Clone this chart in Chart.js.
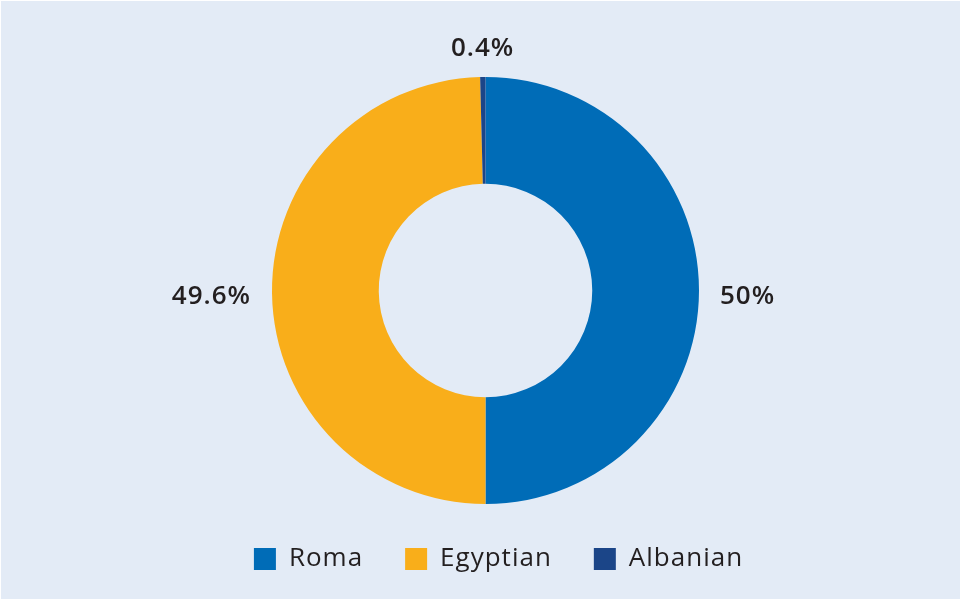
<!DOCTYPE html>
<html>
<head>
<meta charset="utf-8">
<script src="https://cdn.jsdelivr.net/npm/chart.js@4.4.1/dist/chart.umd.min.js"></script>
<style>
  html, body { margin: 0; padding: 0; background: #ffffff; }
  #wrap { position: absolute; left: 1px; top: 1px; width: 959px; height: 598px; background: #e3ebf6; }
</style>
</head>
<body>
<div id="wrap"><canvas id="chart" width="959" height="598"></canvas></div>
<script>
const groups = ['Roma', 'Egyptian', 'Albanian'];
const shares = [50, 49.6, 0.4];
const shareLabels = ['50%', '49.6%', '0.4%'];
const colours = ['#006cb7', '#f9ae1a', '#1b4588'];

const textColour = '#231f20';
const fontFamily = '"Open Sans", "Noto Sans", sans-serif';

// slightly wider text tracking; set again after any canvas reset
const tracking = {
  id: 'tracking',
  beforeUpdate(chart) { chart.ctx.letterSpacing = '1px'; },
  beforeDraw(chart) { chart.ctx.letterSpacing = '1px'; },
  afterLayout(chart) {
    // nudge the legend a little to the right
    chart.legend.left += 13;
    chart.legend.right += 13;
  }
};

// value labels placed just outside each slice, on its middle angle
const outerLabels = {
  id: 'outerLabels',
  afterDatasetsDraw(chart) {
    const ctx = chart.ctx;
    const meta = chart.getDatasetMeta(0);
    ctx.save();
    ctx.fillStyle = textColour;
    ctx.font = '600 26px ' + fontFamily;
    ctx.textBaseline = 'middle';
    meta.data.forEach((arc, i) => {
      const p = arc.getProps(['x', 'y', 'startAngle', 'endAngle', 'outerRadius'], true);
      const mid = (p.startAngle + p.endAngle) / 2;
      const r = p.outerRadius + 21;
      const cos = Math.cos(mid), sin = Math.sin(mid);
      const x = p.x + cos * r;
      let y;
      ctx.textAlign = cos > 0.3 ? 'left' : (cos < -0.3 ? 'right' : 'center');
      if (sin < -0.9) {
        y = p.y - p.outerRadius - 28;
      } else {
        y = p.y + 6;
      }
      ctx.fillText(shareLabels[i], x, y);
    });
    ctx.restore();
  }
};

new Chart(document.getElementById('chart'), {
  type: 'doughnut',
  data: {
    labels: groups,
    datasets: [{
      data: shares,
      backgroundColor: colours,
      borderWidth: 0,
      hoverOffset: 0
    }]
  },
  options: {
    responsive: false,
    animation: false,
    cutout: '50%',
    layout: { padding: { top: 76, bottom: 17, left: 10, right: 0 } },
    plugins: {
      tooltip: { enabled: false },
      legend: {
        position: 'bottom',
        labels: {
          boxWidth: 22,
          boxHeight: 22,
          padding: 42,
          color: textColour,
          font: { family: fontFamily, size: 26 }
        }
      }
    }
  },
  plugins: [tracking, outerLabels]
});
</script>
</body>
</html>
